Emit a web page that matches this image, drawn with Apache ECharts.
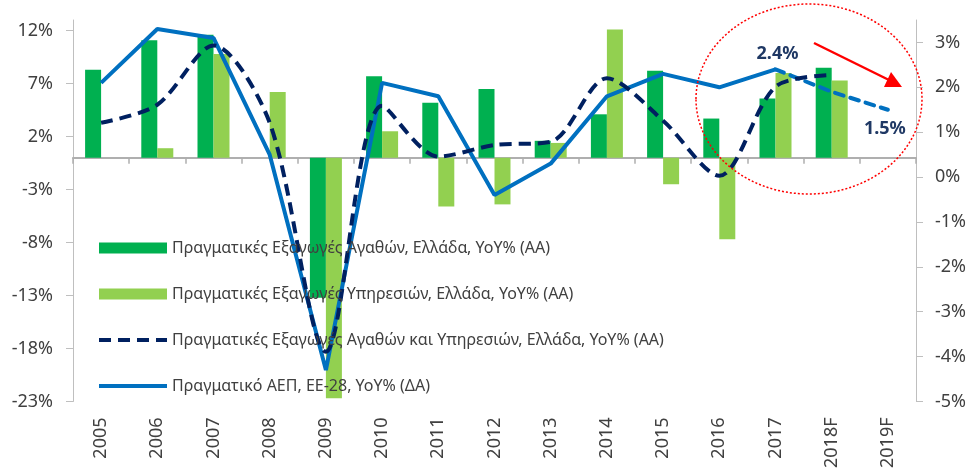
<!DOCTYPE html>
<html>
<head>
<meta charset="utf-8">
<style>
    html, body { margin: 0; height: 100%; background: #fff; }
    #container { width: 971px; height: 471px; }
</style>
</head>
<body>
<div id="container"></div>
<script src="https://cdn.jsdelivr.net/npm/echarts@6/dist/echarts.min.js"></script>
<script type="text/javascript">
    var years = ['2005', '2006', '2007', '2008', '2009', '2010', '2011', '2012',
        '2013', '2014', '2015', '2016', '2017', '2018F', '2019F'];

    // left axis (ΑΑ)
    var goods    = [8.3, 11.1, 11.6, 0, -13.2, 7.7, 5.2, 6.5, 1.6, 4.1, 8.2, 3.7, 5.6, 8.5, null];
    var services = [0, 0.9, 9.8, 6.2, -22.7, 2.5, -4.6, -4.4, 1.4, 12.1, -2.5, -7.7, 8.0, 7.3, null];
    var total    = [3.3, 5.0, 10.6, 3.3, -18.3, 4.9, 0.1, 1.2, 1.5, 7.5, 3.5, -1.7, 6.7, 7.8, null];

    // right axis (ΔΑ)
    var gdp         = [2.1, 3.3, 3.1, 0.5, -4.3, 2.1, 1.8, -0.4, 0.3, 1.8, 2.3, 2.0, 2.4, null, null];
    var gdpForecast = [null, null, null, null, null, null, null, null, null, null, null, null, 2.4, 1.9, 1.5];

    var leftTicks  = [-23, -18, -13, -8, -3, 2, 7, 12];
    var rightTicks = [-5, -4, -3, -2, -1, 0, 1, 2, 3];

    var nameGoods    = 'Πραγματικές Εξαγωγές Αγαθών, Ελλάδα, YoY% (AA)';
    var nameServices = 'Πραγματικές Εξαγωγές Υπηρεσιών, Ελλάδα, YoY% (AA)';
    var nameTotal    = 'Πραγματικές Εξαγωγές Αγαθών και Υπηρεσιών, Ελλάδα, YoY% (AA)';
    var nameGdp      = 'Πραγματικό ΑΕΠ, ΕΕ-28, YoY% (ΔΑ)';

    var font = 'Noto Sans';
    var textColor = '#404040';
    var navy = '#1F3864';
    var blue = '#0070C0';

    function pctLabel(position, distance, offset) {
        return {
            show: true,
            position: position,
            distance: distance,
            offset: offset,
            formatter: '{c}%',
            fontFamily: font,
            fontSize: 18,
            fontWeight: 'bold',
            color: navy
        };
    }

    // only one point per line carries a (tiny) symbol, so it can hold the label
    function labelled(values, index, label) {
        return values.map(function (v, i) {
            if (i !== index) return v;
            return { value: v, symbol: 'circle', symbolSize: 1, label: label };
        });
    }

    var dom = document.getElementById('container');
    var myChart = echarts.init(dom);

    var option = {
        animation: false,
        grid: { left: 73, right: 55, top: 20, bottom: 65 },
        legend: {
            orient: 'vertical',
            left: 92,
            top: 235,
            itemWidth: 68,
            itemHeight: 11,
            itemGap: 30,
            textStyle: { fontFamily: font, fontSize: 16, color: textColor },
            data: [
                { name: nameGoods, icon: 'rect' },
                { name: nameServices, icon: 'rect' },
                { name: nameTotal, itemStyle: { opacity: 0 }, lineStyle: { width: 4 } },
                { name: nameGdp, itemStyle: { opacity: 0 }, lineStyle: { width: 4 } }
            ]
        },
        xAxis: [
            {
                type: 'category',
                data: years,
                axisLine: { onZero: true, onZeroAxisIndex: 0, lineStyle: { color: '#AFAFAF', width: 2 } },
                axisTick: { show: true, length: 6, lineStyle: { color: '#AFAFAF', width: 1.5 } },
                axisLabel: { show: false },
                splitLine: { show: false }
            },
            {
                type: 'category',
                data: years,
                position: 'bottom',
                axisLine: { show: false, onZero: false },
                axisTick: { show: false },
                axisLabel: {
                    rotate: 90,
                    margin: 16,
                    fontFamily: font,
                    fontSize: 18,
                    color: textColor
                },
                splitLine: { show: false }
            }
        ],
        yAxis: [
            {
                type: 'value',
                min: -23,
                max: 13,
                axisLine: { show: true, lineStyle: { color: '#BFBFBF' } },
                axisTick: { show: true, length: 7, customValues: leftTicks, lineStyle: { color: '#BFBFBF' } },
                axisLabel: {
                    customValues: leftTicks,
                    formatter: '{value}%',
                    margin: 20,
                    fontFamily: font,
                    fontSize: 18,
                    color: textColor
                },
                splitLine: { show: false }
            },
            {
                type: 'value',
                min: -5,
                max: 3.5,
                position: 'right',
                axisLine: { show: true, lineStyle: { color: '#BFBFBF' } },
                axisTick: { show: true, length: 7, customValues: rightTicks, lineStyle: { color: '#BFBFBF' } },
                axisLabel: {
                    customValues: rightTicks,
                    formatter: '{value}%',
                    margin: 19,
                    fontFamily: font,
                    fontSize: 18,
                    color: textColor
                },
                splitLine: { show: false }
            }
        ],
        series: [
            {
                name: nameGoods,
                type: 'bar',
                barWidth: 16,
                barGap: '0%',
                itemStyle: { color: '#00B050' },
                data: goods
            },
            {
                name: nameServices,
                type: 'bar',
                barWidth: 16,
                barGap: '0%',
                itemStyle: { color: '#92D050' },
                data: services
            },
            {
                name: nameGdp,
                type: 'line',
                yAxisIndex: 1,
                symbol: 'none',
                showSymbol: true,
                lineStyle: { color: blue, width: 4 },
                itemStyle: { color: blue },
                data: labelled(gdp, 12, pctLabel('top', 6, [2, 0]))
            },
            {
                name: 'forecast',
                type: 'line',
                yAxisIndex: 1,
                symbol: 'none',
                showSymbol: true,
                lineStyle: { color: blue, width: 4, type: [9, 7], cap: 'round' },
                itemStyle: { color: blue },
                data: labelled(gdpForecast, 14, pctLabel('bottom', 10, [-3, 0]))
            },
            {
                name: nameTotal,
                type: 'line',
                smooth: 0.3,
                symbol: 'none',
                showSymbol: false,
                lineStyle: { color: '#002060', width: 4, type: [12, 7] },
                itemStyle: { color: '#002060' },
                data: total
            }
        ],
        graphic: [
            {
                type: 'ellipse',
                shape: { cx: 809, cy: 99, rx: 113, ry: 95 },
                style: { fill: 'none', stroke: '#FF0000', lineWidth: 1.5, lineDash: [2, 2] },
                z: 100
            },
            {
                type: 'line',
                shape: { x1: 814, y1: 43, x2: 889, y2: 80 },
                style: { stroke: '#FF0000', lineWidth: 2.5 },
                z: 100
            },
            {
                type: 'polygon',
                shape: { points: [[902, 87], [884, 87], [891, 72]] },
                style: { fill: '#FF0000' },
                z: 100
            }
        ]
    };

    myChart.setOption(option);
</script>
</body>
</html>
